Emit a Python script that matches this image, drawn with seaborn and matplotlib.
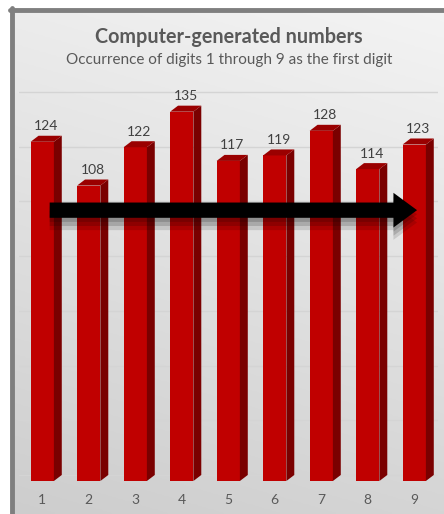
import numpy as np
import pandas as pd
import matplotlib
matplotlib.use("Agg")
import matplotlib.pyplot as plt
import seaborn as sns
from matplotlib.patches import Polygon, FancyArrowPatch

digits = ["1", "2", "3", "4", "5", "6", "7", "8", "9"]
counts = [124, 108, 122, 135, 117, 119, 128, 114, 123]
arrow_level = 99
title = "Computer-generated numbers"
subtitle = "Occurrence of digits 1 through 9 as the first digit"

sns.set_theme(style="white")
plt.rcParams['font.family'] = ['Lato', 'DejaVu Sans']

W, H = 444, 514
fig = plt.figure(figsize=(W / 100, H / 100), dpi=100)
fig.patch.set_facecolor("white")

# background gradient panel
bg = fig.add_axes([14 / W, 0, 1 - 14 / W, 1 - 12 / H])
yy, xx = np.mgrid[0:1:200j, 0:1:200j]
g = 0.955 - 0.12 * yy - 0.03 * (1 - xx)
bg.imshow(np.dstack([g, g, g]), aspect="auto", extent=[0, 1, 1, 0])
bg.set_axis_off()
fig.add_artist(plt.Line2D([12 / W, 12 / W], [0, 1 - 8 / H], color="#7f7f7f", lw=3.5,
                          transform=fig.transFigure))
fig.add_artist(plt.Line2D([10 / W, 1], [1 - 10 / H, 1 - 10 / H], color="#7f7f7f", lw=3.5,
                          transform=fig.transFigure))

px_per_unit = (481 - 98) / 140
ymax = 143
df = pd.DataFrame({"digit": digits, "count": counts})
ax = fig.add_axes([19 / W, 1 - 481 / H, 418.5 / W, ymax * px_per_unit / H])
ax.patch.set_alpha(0)
sns.barplot(data=df, x="digit", y="count", ax=ax, color="#C00000", width=0.5,
            saturation=1, linewidth=0, edgecolor="none", zorder=3)
dx, dy = 0.17, 2.2
ax.set_ylim(0, ymax)
ax.set_xlim(-0.5, 8.5)
ax.set_yticks(np.arange(0, 141, 20) + dy)
ax.set_yticklabels([])
ax.grid(axis="y", color="#d4d4d4", lw=1, zorder=0)
ax.set_xlabel("")
ax.set_ylabel("")
for s in ax.spines.values():
    s.set_visible(False)
ax.tick_params(axis="x", length=0, pad=9, labelsize=10, labelcolor="#595959")
ax.tick_params(axis="y", length=0)

for p, v in zip(ax.patches, counts):
    x0 = p.get_x()
    x1 = x0 + p.get_width()
    h = p.get_height()
    side = Polygon([(x1, 0), (x1, h), (x1 + dx, h + dy), (x1 + dx, dy)], closed=True,
                   facecolor="#7a0000", edgecolor="none", zorder=3)
    top = Polygon([(x0, h), (x1, h), (x1 + dx, h + dy), (x0 + dx, h + dy)], closed=True,
                  facecolor="#9a0000", edgecolor="none", zorder=3)
    ax.add_patch(side)
    ax.add_patch(top)
    ax.text(x0 + (x1 - x0 + dx) / 2, h + dy + 1.3, str(v), ha="center", va="bottom",
            fontsize=10, color="#404040")

style = "simple,head_length=17,head_width=25,tail_width=11"
for off, a in [(4.5, 0.12), (3.0, 0.15), (1.5, 0.15)]:
    ax.add_patch(FancyArrowPatch((0.1, arrow_level - off), (8.12, arrow_level - off),
                                 arrowstyle=style, mutation_scale=1, color="black",
                                 alpha=a, lw=0, zorder=4))
ax.add_patch(FancyArrowPatch((0.1, arrow_level), (8.12, arrow_level), arrowstyle=style,
                             mutation_scale=1, color="black", lw=0, zorder=5))

fig.text(0.5 + 7 / W, 1 - 37 / H, title, ha="center", va="center", fontsize=14.2,
         fontweight="bold", color="#595959")
fig.text(0.5 + 7 / W, 1 - 60 / H, subtitle, ha="center", va="center", fontsize=11,
         color="#595959")

fig.savefig("out.png", dpi=100)
